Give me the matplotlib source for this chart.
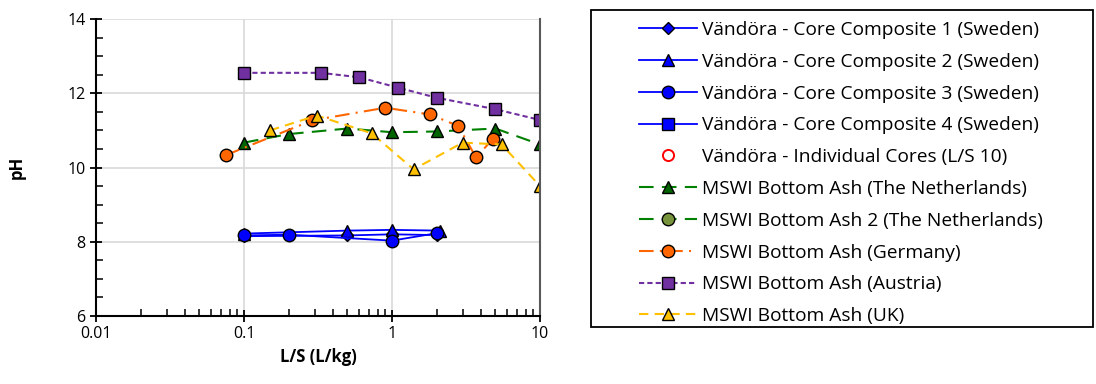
import numpy as np
import matplotlib
matplotlib.use("Agg")
from matplotlib import pyplot as plt
from matplotlib.patches import Rectangle
from matplotlib.ticker import FixedLocator, NullFormatter, LogLocator

plt.rcParams['font.family'] = ['Open Sans', 'DejaVu Sans']

# Sweden core composites
cc1_x = [0.1, 0.5, 1, 2]
cc1_ph = [8.15, 8.17, 8.2, 8.18]
cc2_x = [0.1, 0.5, 1, 2.1]
cc2_ph = [8.22, 8.3, 8.32, 8.3]
cc3_x = [0.1, 0.2, 1, 2]
cc3_ph = [8.17, 8.19, 8.03, 8.23]
cc4_x = []
cc4_ph = []
ind_x = []
ind_ph = []

# MSWI bottom ash
nl_x = [0.1, 0.2, 0.5, 1, 2, 5, 10]
nl_ph = [10.67, 10.9, 11.05, 10.95, 10.97, 11.05, 10.62]
nl2_x = []
nl2_ph = []
de_x = [0.075, 0.29, 0.9, 1.8, 2.8, 3.7, 4.8]
de_ph = [10.33, 11.27, 11.61, 11.43, 11.12, 10.27, 10.77]
at_x = [0.1, 0.33, 0.6, 1.1, 2, 5, 10]
at_ph = [12.55, 12.55, 12.43, 12.15, 11.88, 11.57, 11.28]
uk_x = [0.15, 0.31, 0.73, 1.4, 3, 5.5, 10]
uk_ph = [11.0, 11.4, 10.92, 9.95, 10.67, 10.62, 9.5]

fig = plt.figure(figsize=(10.96, 3.84), dpi=100)
ax = fig.add_axes([96/1096, 1-316/384, 444/1096, 297/384])

ms = 9
ax.plot(cc1_x, cc1_ph, color='#0000FF', lw=1.3, marker='D', ms=6.5, mfc='#0000FF', mec='black', mew=1,
        label='Vändöra - Core Composite 1 (Sweden)')
ax.plot(cc2_x, cc2_ph, color='#0000FF', lw=1.3, marker='^', ms=ms, mfc='#0000FF', mec='black', mew=1,
        label='Vändöra - Core Composite 2 (Sweden)')
ax.plot(cc3_x, cc3_ph, color='#0000FF', lw=1.3, marker='o', ms=ms, mfc='#0000FF', mec='black', mew=1,
        label='Vändöra - Core Composite 3 (Sweden)')
ax.plot(cc4_x, cc4_ph, color='#0000FF', lw=1.3, marker='s', ms=8.5, mfc='#0000FF', mec='black', mew=1,
        label='Vändöra - Core Composite 4 (Sweden)')
ax.plot(ind_x, ind_ph, ls='none', marker='o', ms=8, mfc='white', mec='#FF0000', mew=1.4,
        label='Vändöra - Individual Cores (L/S 10)')
ax.plot(nl_x, nl_ph, color='#008000', lw=1.5, dashes=(7, 4), marker='^', ms=ms, mfc='#006400', mec='black', mew=1,
        label='MSWI Bottom Ash (The Netherlands)')
ax.plot(nl2_x, nl2_ph, color='#008000', lw=1.5, dashes=(7, 4), marker='o', ms=ms, mfc='#77933C', mec='black', mew=1,
        label='MSWI Bottom Ash 2 (The Netherlands)')
ax.plot(de_x, de_ph, color='#FF6600', lw=1.5, dashes=(7, 3, 1, 3), marker='o', ms=ms, mfc='#FF6600', mec='black', mew=1,
        label='MSWI Bottom Ash (Germany)')
ax.plot(at_x, at_ph, color='#7030A0', lw=1.5, dashes=(2.5, 1.5), marker='s', ms=8.5, mfc='#7030A0', mec='black', mew=1,
        label='MSWI Bottom Ash (Austria)')
ax.plot(uk_x, uk_ph, color='#FFC000', lw=1.5, dashes=(4.5, 3), marker='^', ms=ms, mfc='#FFC000', mec='black', mew=1,
        label='MSWI Bottom Ash (UK)')

ax.set_xscale('log')
ax.set_xlim(0.01, 10)
ax.set_ylim(6, 14)
ax.xaxis.set_major_locator(FixedLocator([0.01, 0.1, 1, 10]))
ax.set_xticklabels(['0.01', '0.1', '1', '10'])
ax.xaxis.set_minor_locator(LogLocator(base=10, subs=np.arange(2, 10)))
ax.xaxis.set_minor_formatter(NullFormatter())
ax.set_yticks([6, 8, 10, 12, 14])
ax.yaxis.set_minor_locator(FixedLocator(np.arange(6, 14.01, 0.5)))

ax.grid(True, which='major', color='#D9D9D9', lw=1.2)
ax.set_axisbelow(True)

for s in ['left', 'bottom']:
    ax.spines[s].set_linewidth(1.5)
    ax.spines[s].set_color('black')
ax.spines['top'].set_visible(False)
ax.spines['right'].set_color('#595959')
ax.spines['right'].set_linewidth(1.5)

ax.tick_params(which='major', direction='inout', length=9, width=1.3, labelsize=11.5, color='black', pad=3)
ax.tick_params(which='minor', direction='in', length=5, width=1.1, color='black')
ax.tick_params(axis='y', which='both', right=False)
ax.tick_params(axis='x', which='both', top=False)

ax.set_xlabel('L/S (L/kg)', fontsize=12, fontweight='bold', labelpad=4)
ax.set_ylabel('pH', fontsize=12, fontweight='bold', labelpad=30)

# legend frame
x0, y0 = 591/1096, 1-327/384
w, h = (1093-591)/1096, (327-10)/384
fig.patches.append(Rectangle((x0, y0), w, h, transform=fig.transFigure,
                             fill=False, edgecolor='black', lw=1.3))
fig.legend(loc='upper left', bbox_to_anchor=(639/1096, 1-21/384), frameon=False,
           fontsize=13.8, handlelength=3.0, handletextpad=0.3, labelspacing=0.72,
           borderaxespad=0, borderpad=0)

fig.savefig('out.png', dpi=100)
